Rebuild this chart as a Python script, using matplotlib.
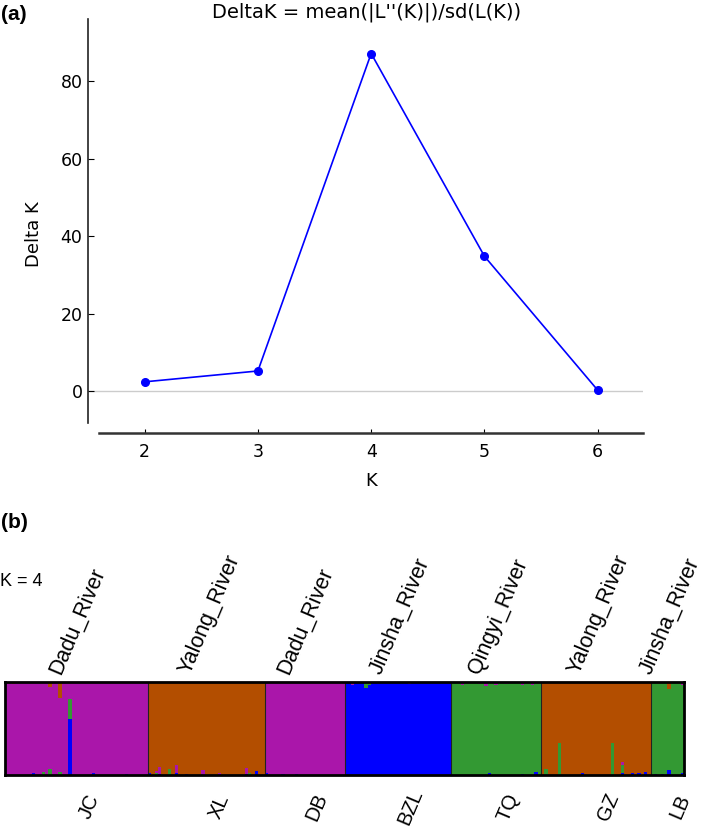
import matplotlib
matplotlib.use('Agg')
import matplotlib.pyplot as plt
import numpy as np

# (a) Delta K per K
k_values = [2, 3, 4, 5, 6]
delta_k = [2.4, 5.2, 87.1, 34.8, 0.25]

# (b) STRUCTURE bar plot, K = 4
groups = ['JC', 'XL', 'DB', 'BZL', 'TQ', 'GZ', 'LB']
rivers = ['Dadu_River', 'Yalong_River', 'Dadu_River', 'Jinsha_River',
          'Qingyi_River', 'Yalong_River', 'Jinsha_River']
group_n = [43, 35, 24, 32, 27, 33, 10]
# cluster order (bottom -> top): blue, green, purple, orange
cluster_colors = ['#0000ff', '#339933', '#aa16aa', '#b34e00']
group_main = [2, 3, 2, 0, 1, 3, 1]
# admixed individuals: group, index in group, blue, green, purple, orange
admixed = [
    ('JC', 2, 0, 0, 0.98, 0.02),
    ('JC', 8, 0.02, 0, 0.98, 0),
    ('JC', 11, 0, 0.03, 0.97, 0),
    ('JC', 13, 0, 0.065, 0.885, 0.05),
    ('JC', 16, 0, 0.03, 0.80, 0.17),
    ('JC', 19, 0.60, 0.22, 0.18, 0),
    ('JC', 26, 0.02, 0, 0.98, 0),
    ('JC', 36, 0.015, 0, 0.985, 0),
    ('XL', 0, 0.02, 0, 0, 0.98),
    ('XL', 2, 0, 0.02, 0.02, 0.96),
    ('XL', 3, 0.01, 0, 0.075, 0.915),
    ('XL', 6, 0, 0.06, 0, 0.94),
    ('XL', 8, 0.02, 0, 0.09, 0.89),
    ('XL', 11, 0.015, 0, 0, 0.985),
    ('XL', 16, 0, 0, 0.05, 0.95),
    ('XL', 21, 0, 0, 0.02, 0.98),
    ('XL', 29, 0.01, 0, 0.07, 0.92),
    ('XL', 30, 0, 0.02, 0, 0.98),
    ('XL', 32, 0.04, 0, 0, 0.96),
    ('DB', 0, 0.02, 0, 0.98, 0),
    ('DB', 5, 0.01, 0, 0.99, 0),
    ('DB', 9, 0.01, 0, 0.99, 0),
    ('BZL', 2, 0.97, 0, 0.02, 0.01),
    ('BZL', 6, 0.94, 0.05, 0, 0.01),
    ('BZL', 7, 0.97, 0.01, 0, 0.02),
    ('BZL', 19, 0.98, 0, 0.02, 0),
    ('TQ', 3, 0, 0.97, 0.03, 0),
    ('TQ', 8, 0, 0.98, 0.02, 0),
    ('TQ', 10, 0, 0.96, 0.04, 0),
    ('TQ', 11, 0.02, 0.98, 0, 0),
    ('TQ', 13, 0, 0.97, 0.03, 0),
    ('TQ', 16, 0, 0.98, 0.02, 0),
    ('TQ', 21, 0.01, 0.96, 0.03, 0),
    ('TQ', 24, 0, 0.97, 0.03, 0),
    ('TQ', 25, 0.03, 0.97, 0, 0),
    ('GZ', 1, 0, 0.06, 0, 0.94),
    ('GZ', 5, 0, 0.34, 0, 0.66),
    ('GZ', 12, 0.02, 0, 0, 0.98),
    ('GZ', 21, 0, 0.34, 0, 0.66),
    ('GZ', 24, 0.02, 0.09, 0.03, 0.86),
    ('GZ', 27, 0.02, 0, 0, 0.98),
    ('GZ', 29, 0.02, 0, 0, 0.98),
    ('GZ', 31, 0.03, 0, 0, 0.97),
    ('LB', 1, 0.01, 0.99, 0, 0),
    ('LB', 3, 0.015, 0.985, 0, 0),
    ('LB', 5, 0.05, 0.88, 0, 0.07),
    ('LB', 9, 0.02, 0.95, 0.03, 0),
]

W, H = 709, 826
fig = plt.figure(figsize=(W / 100, H / 100), dpi=100)


def px_box(left, top, right, bottom):
    return [left / W, 1 - bottom / H, (right - left) / W, (bottom - top) / H]


# ---- panel (a)
ax = fig.add_axes(px_box(88, 19, 643, 433))
ax.axhline(0, color='#cccccc', lw=1, zorder=1)
ax.plot(k_values, delta_k, '-o', color='#0000ff', lw=1.2, ms=5.5, zorder=3)
ax.set_xlim(1.5, 6.4)
ax.set_ylim(-10.8, 96)
ax.set_xticks(k_values)
ax.set_yticks([0, 20, 40, 60, 80])
for s in ['top', 'right']:
    ax.spines[s].set_visible(False)
ax.spines['left'].set_bounds(-8.3, 96)
ax.spines['left'].set_linewidth(1.2)
ax.spines['left'].set_color('#222222')
ax.spines['bottom'].set_bounds(1.6, 6.4)
ax.spines['bottom'].set_linewidth(1.8)
ax.spines['bottom'].set_color('#333333')
ax.tick_params(axis='y', direction='in', length=4, pad=4, labelsize=12.5)
ax.tick_params(axis='x', direction='in', length=3, pad=7, labelsize=12.5)
ax.set_ylabel('Delta K', fontsize=13)
ax.yaxis.set_label_coords(-0.081, 0.48)
ax.set_xlabel('K', fontsize=13)
ax.xaxis.set_label_coords(0.51, -0.095)

fig.text(367 / W, 1 - 12 / H, "DeltaK = mean(|L''(K)|)/sd(L(K))",
         ha='center', va='center', fontsize=14)
fig.text(1 / W, 1 - 14 / H, '(a)', ha='left', va='center', fontsize=15,
         fontweight='bold', family='Liberation Sans')

# ---- panel (b)
bx = fig.add_axes(px_box(5, 682, 684, 775))
n_total = sum(group_n)
starts = np.concatenate([[0], np.cumsum(group_n)[:-1]])
q = np.zeros((n_total, 4))
for st, n, main in zip(starts, group_n, group_main):
    q[st:st + n, main] = 1.0
offset = dict(zip(groups, starts))
for g, i, *vals in admixed:
    q[offset[g] + i] = vals

xs = np.arange(n_total)
bottom = np.zeros(n_total)
for c in range(4):
    bx.bar(xs, q[:, c], bottom=bottom, width=1.0, color=cluster_colors[c],
           linewidth=0, antialiased=False)
    bottom += q[:, c]
for st in starts[1:]:
    bx.axvline(st - 0.5, color='#222222', lw=0.8)
bx.set_xlim(-0.5, n_total - 0.5)
bx.set_ylim(0, 1)
bx.set_xticks([])
bx.set_yticks([])
for s in bx.spines.values():
    s.set_linewidth(2)
    s.set_color('black')

centers = starts + np.array(group_n) / 2 - 0.5
for cx, river, g in zip(centers, rivers, groups):
    bx.annotate(river, xy=(cx, 1), xycoords=('data', 'axes fraction'),
                xytext=(-12, 5), textcoords='offset points',
                rotation=67, rotation_mode='anchor', ha='left',
                va='baseline', fontsize=15.5, family='Liberation Sans')
    bx.annotate(g, xy=(cx, 0), xycoords=('data', 'axes fraction'),
                xytext=(9, -23), textcoords='offset points',
                rotation=67, rotation_mode='anchor', ha='center',
                va='center', fontsize=14.5, family='Liberation Sans')

fig.text(0 / W, 1 - 582 / H, 'K = 4', ha='left', va='center', fontsize=13,
         family='Liberation Sans')
fig.text(1 / W, 1 - 522 / H, '(b)', ha='left', va='center', fontsize=15,
         fontweight='bold', family='Liberation Sans')

fig.savefig('out.png', dpi=100)
